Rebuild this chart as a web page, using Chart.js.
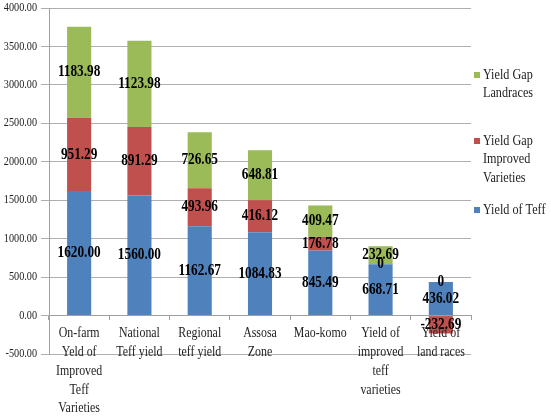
<!DOCTYPE html>
<html>
<head>
<meta charset="utf-8">
<script src="https://cdn.jsdelivr.net/npm/chart.js@4/dist/chart.umd.min.js"></script>
<style>
  body { margin: 0; background: #fff; }
  #wrap { width: 551px; height: 417px; }
</style>
</head>
<body>
<div id="wrap"><canvas id="yieldChart" width="551" height="417"></canvas></div>
<script>
// categories (multi-line, as in the original)
const categories = [
    ["On-farm", "Yeld of", "Improved", "Teff", "Varieties"],
    ["National", "Teff yield"],
    ["Regional", "teff yield"],
    ["Assosa", "Zone"],
    ["Mao-komo"],
    ["Yield of", "improved", "teff", "varieties"],
    ["Yield of", "land races"]
];

const yieldOfTeff = [1620.00, 1560.00, 1162.67, 1084.83, 845.49, 668.71, 436.02];
const gapImproved = [951.29, 891.29, 493.96, 416.12, 176.78, 0, -232.69];
const gapLandraces = [1183.98, 1123.98, 726.65, 648.81, 409.47, 232.69, 0];

const seriesNames = ["Yield of Teff", "Yield Gap Improved Varieties", "Yield Gap Landraces"];
const legendLines = [["Yield of Teff"], ["Yield Gap", "Improved", "Varieties"], ["Yield Gap", "Landraces"]];

const yMin = -500, yMax = 4000, yStep = 500;

const SERIF = "'Liberation Serif', 'Times New Roman', serif";

// the original picture is a little squeezed sideways, so text is drawn condensed
function condensedText(ctx, txt, x, y, sx){
    ctx.save();
    ctx.translate(x, y);
    ctx.scale(sx, 1);
    ctx.fillText(txt, 0, 0);
    ctx.restore();
}

/* AXIS TEXT */
const axisText = {
    id: "axisText",
    afterDraw(chart){
        const ctx = chart.ctx;
        const xs = chart.scales.x, ys = chart.scales.y;
        ctx.save();
        ctx.fillStyle = "#222";
        ctx.textBaseline = "middle";

        // y tick labels
        ctx.font = "12px " + SERIF;
        ctx.textAlign = "right";
        ys.ticks.forEach(t => {
            condensedText(ctx, Number(t.value).toFixed(2), 37, ys.getPixelForValue(t.value), 0.85);
        });

        // category labels, under the zero line
        ctx.font = "14px " + SERIF;
        ctx.textAlign = "center";
        let y0 = ys.getPixelForValue(0) + 18;
        chart.data.labels.forEach((lines, i) => {
            let x = xs.getPixelForTick(i);
            lines.forEach((line, k) => condensedText(ctx, line, x, y0 + k * 18.8, 0.85));
        });
        ctx.restore();
    }
};

/* DATA LABELS */
const barLabels = {
    id: "barLabels",
    afterDatasetsDraw(chart){
        const ctx = chart.ctx;
        ctx.save();
        ctx.font = "bold 16px " + SERIF;
        ctx.fillStyle = "#000";
        ctx.textAlign = "center";
        ctx.textBaseline = "middle";
        chart.data.datasets.forEach((ds, i) => {
            chart.getDatasetMeta(i).data.forEach((el, j) => {
                let v = ds.data[j];
                let txt = v === 0 ? "0" : v.toFixed(2);
                condensedText(ctx, txt, el.x, (el.y + el.base) / 2, 0.83);
            });
        });
        ctx.restore();
    }
};

/* LEGEND (right side, top entry = last series) */
const sideLegend = {
    id: "sideLegend",
    afterDraw(chart){
        const ctx = chart.ctx;
        const tops = [210, 141, 75];   // first text line centre for each series
        ctx.save();
        ctx.font = "14px " + SERIF;
        ctx.textBaseline = "middle";
        ctx.textAlign = "left";
        chart.data.datasets.forEach((ds, i) => {
            let y = tops[i];
            ctx.fillStyle = ds.backgroundColor;
            ctx.fillRect(474, y - 3, 6, 6);
            ctx.fillStyle = "#222";
            legendLines[i].forEach((line, k) => condensedText(ctx, line, 483, y + k * 18.5, 0.87));
        });
        ctx.restore();
    }
};

new Chart(document.getElementById("yieldChart"), {
    type: 'bar',
    data: {
        labels: categories,
        datasets: [
            { label: seriesNames[0], data: yieldOfTeff, backgroundColor: "#4F81BD" },
            { label: seriesNames[1], data: gapImproved, backgroundColor: "#C0504D" },
            { label: seriesNames[2], data: gapLandraces, backgroundColor: "#9BBB59" }
        ]
    },
    options: {
        responsive: false,
        animation: false,
        devicePixelRatio: 1,
        layout: { padding: { top: 8, right: 80, bottom: 63, left: 0 } },
        datasets: { bar: { barPercentage: 0.4, categoryPercentage: 1 } },
        plugins: {
            legend: { display: false },
            tooltip: { enabled: false }
        },
        scales: {
            x: {
                stacked: true,
                position: { y: 0 },
                grid: { drawOnChartArea: false, drawTicks: true, tickLength: 4, color: "#a0a0a0", offset: true },
                border: { display: true, color: "#a0a0a0" },
                ticks: { display: false, autoSkip: false, maxRotation: 0 }
            },
            y: {
                stacked: true,
                min: yMin,
                max: yMax,
                afterFit: s => { s.width = 49; },
                grid: { color: "#b0b0b0", drawTicks: true, tickLength: 8 },
                border: { display: true, color: "#a0a0a0" },
                ticks: { display: false, stepSize: yStep }
            }
        }
    },
    plugins: [barLabels, axisText, sideLegend]
});
</script>
</body>
</html>
